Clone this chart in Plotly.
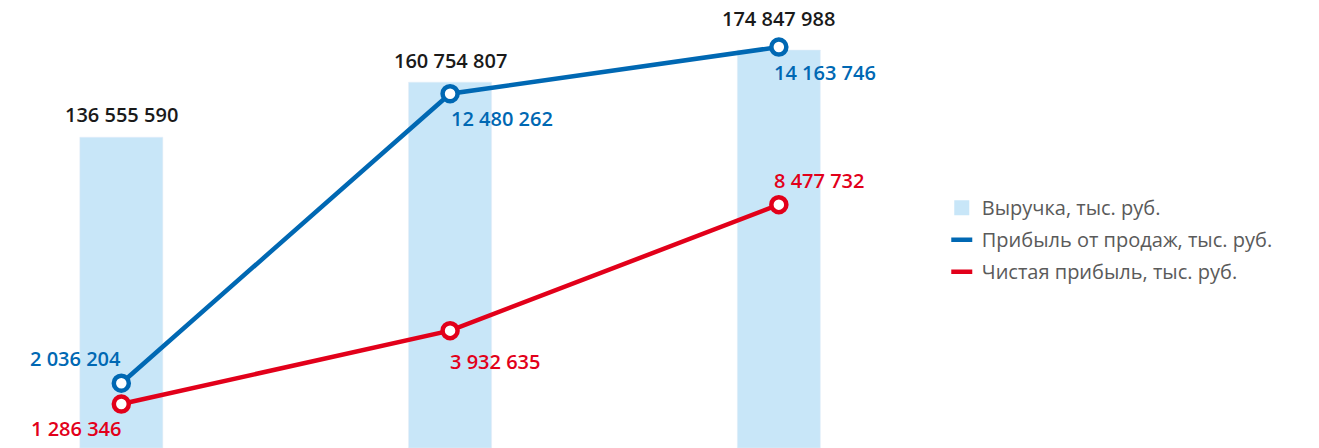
import plotly.graph_objects as go

categories = ["2019", "2020", "2021"]
revenue = [136555590, 160754807, 174847988]
sales_profit = [2036204, 12480262, 14163746]
net_profit = [1286346, 3932635, 8477732]

names = ["Выручка, тыс. руб.", "Прибыль от продаж, тыс. руб.", "Чистая прибыль, тыс. руб."]

BAR_C = "#C8E6F8"
BLUE = "#0068B3"
RED = "#E2001A"
FONT = "Open Sans"


def fmt(v):
    return f"{v:,}".replace(",", " ")


fig = go.Figure()
fig.add_trace(go.Bar(x=categories, y=revenue, marker_color=BAR_C, showlegend=False,
                     hoverinfo="skip"))
for vals, col in ((sales_profit, BLUE), (net_profit, RED)):
    fig.add_trace(go.Scatter(x=categories, y=vals, yaxis="y2", mode="lines+markers",
                             line=dict(color=col, width=4.5),
                             marker=dict(symbol="circle", size=15, color="white",
                                         line=dict(color=col, width=4.5)),
                             showlegend=False, cliponaxis=False))

# legend entries
fig.add_trace(go.Scatter(x=[None], y=[None], mode="markers", name=names[0],
                         marker=dict(symbol="square", size=15, color=BAR_C), legendgroup="a"))
fig.add_trace(go.Scatter(x=[None], y=[None], mode="markers", name=names[1],
                         marker=dict(symbol="line-ew", size=15, line=dict(color=BLUE, width=4.5)),
                         legendgroup="b"))
fig.add_trace(go.Scatter(x=[None], y=[None], mode="markers", name=names[2],
                         marker=dict(symbol="line-ew", size=15, line=dict(color=RED, width=4.5)),
                         legendgroup="c"))

ann = []
bar_shift = [23, 22, 32]
for i, (v, s) in enumerate(zip(revenue, bar_shift)):
    ann.append(dict(x=i, y=v, xref="x", yref="y", text=fmt(v), showarrow=False,
                    xanchor="center", yanchor="middle", yshift=s,
                    font=dict(family=FONT, size=20, color="#1a1a1a", weight=600)))
blue_pos = [("right", 2, 25), ("left", -1, -25), ("left", -7, -25)]
red_pos = [("right", 2, -24), ("left", -2, -31), ("left", -7, 24)]
for vals, col, pos in ((sales_profit, BLUE, blue_pos), (net_profit, RED, red_pos)):
    for i, (v, (xa, xs, ys)) in enumerate(zip(vals, pos)):
        ann.append(dict(x=i, y=v, xref="x", yref="y2", text=fmt(v),
                        showarrow=False,
                        xanchor=xa, yanchor="middle", xshift=xs, yshift=ys,
                        font=dict(family=FONT, size=20, color=col, weight=600)))

fig.update_layout(
    width=1319, height=448,
    margin=dict(l=0, r=0, t=0, b=0),
    paper_bgcolor="white", plot_bgcolor="white",
    bargap=0.7475,
    xaxis=dict(type="category", range=[-0.369, 3.643], visible=False, domain=[0, 1]),
    yaxis=dict(range=[0, 196.84e6], visible=False),
    yaxis2=dict(range=[-0.30e6, 15.86e6], visible=False, overlaying="y"),
    annotations=ann,
    legend=dict(x=0.714, y=0.58, xanchor="left", yanchor="top",
                font=dict(family=FONT, size=20, color="#5a5a5a"),
                tracegroupgap=3, bgcolor="rgba(0,0,0,0)"),
    showlegend=True,
)

fig.write_html("out.html", config={"displayModeBar": False},
               post_script="document.body.style.margin='0';")
